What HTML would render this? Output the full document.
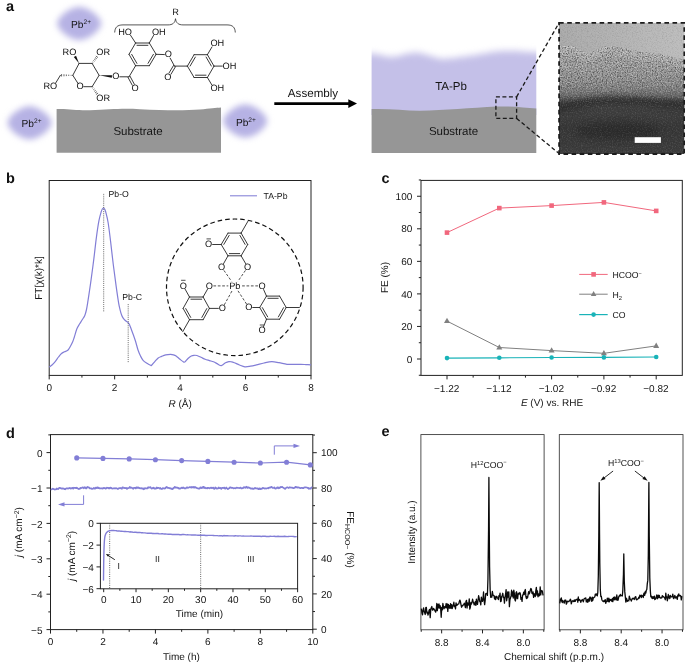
<!DOCTYPE html>
<html lang="en"><head><meta charset="utf-8"><title>Figure</title>
<style>
html,body{margin:0;padding:0;background:#fff;}
svg{display:block;text-rendering:geometricPrecision;font-family:"Liberation Sans",sans-serif;fill:#151515;}
.pl{font-weight:bold;font-size:14.5px;fill:#111;}
</style></head><body>
<svg width="685" height="662" viewBox="0 0 685 662">
<rect width="685" height="662" fill="#fff"/>
<defs>
<linearGradient id="temg" x1="0" y1="0" x2="0" y2="1">
<stop offset="0" stop-color="#a2a2a2"/><stop offset="0.22" stop-color="#a0a0a0"/><stop offset="0.35" stop-color="#979797"/><stop offset="0.47" stop-color="#878787"/><stop offset="0.55" stop-color="#6e6e6e"/><stop offset="0.6" stop-color="#4a4a4a"/><stop offset="0.66" stop-color="#404040"/><stop offset="0.8" stop-color="#373737"/><stop offset="1" stop-color="#3d3d3d"/>
</linearGradient>
<linearGradient id="temtop" x1="0" y1="0" x2="1" y2="0">
<stop offset="0" stop-color="#aaaaaa"/><stop offset="1" stop-color="#bdbdbd"/>
</linearGradient>
<filter id="nw" x="0" y="0" width="100%" height="100%" color-interpolation-filters="sRGB">
<feTurbulence type="fractalNoise" baseFrequency="0.8" numOctaves="2" seed="3"/>
<feColorMatrix type="matrix" values="0 0 0 0 1  0 0 0 0 1  0 0 0 0 1  3 0 0 0 -1.5"/>
</filter>
<filter id="nb" x="0" y="0" width="100%" height="100%" color-interpolation-filters="sRGB">
<feTurbulence type="fractalNoise" baseFrequency="0.8" numOctaves="2" seed="3"/>
<feColorMatrix type="matrix" values="0 0 0 0 0  0 0 0 0 0  0 0 0 0 0  -3 0 0 0 1.5"/>
</filter>
<linearGradient id="nmg" x1="0" y1="0" x2="0" y2="1">
<stop offset="0" stop-color="#fff" stop-opacity="0.5"/><stop offset="0.45" stop-color="#fff" stop-opacity="0.42"/><stop offset="0.58" stop-color="#fff" stop-opacity="0.2"/><stop offset="0.66" stop-color="#fff" stop-opacity="0.1"/><stop offset="1" stop-color="#fff" stop-opacity="0.1"/>
</linearGradient>
<mask id="nmask" maskUnits="userSpaceOnUse" x="559" y="22.7" width="125.5" height="131.3">
<rect x="559" y="22.7" width="125.5" height="131.3" fill="url(#nmg)"/>
<path d="M559,22.7 H684.5 V60 L680.2,58.8 L661.3,54 L644.2,52.2 L627.1,48.4 L608.1,45.5 L597,49.5 L587.3,54 L574,46.5 L559,45.5 Z" fill="#000" opacity="0.82"/>
</mask>
<filter id="blobblur" x="-30%" y="-30%" width="160%" height="160%" color-interpolation-filters="sRGB"><feGaussianBlur stdDeviation="3.3"/></filter>
<filter id="vblur" x="-5%" y="-20%" width="110%" height="140%" color-interpolation-filters="sRGB"><feGaussianBlur stdDeviation="1.2 3.5"/></filter>
<filter id="blur2" x="-20%" y="-100%" width="140%" height="300%"><feGaussianBlur stdDeviation="1.8"/></filter>
<filter id="blur3" x="-20%" y="-100%" width="140%" height="300%"><feGaussianBlur stdDeviation="3"/></filter>
<clipPath id="temclip"><rect x="559" y="22.7" width="125.5" height="131.3"/></clipPath>
<clipPath id="tapbclip"><rect x="371.6" y="30" width="164.7" height="85"/></clipPath>
</defs>
<polygon points="101.2,23.5 101.1,24.3 100.8,25.4 100.3,26.6 99.6,27.8 98.7,29.2 97.6,30.5 96.3,31.8 95.0,33.1 93.5,34.3 91.9,35.4 90.2,36.4 88.4,37.4 86.7,38.2 85.0,38.9 83.3,39.4 81.7,39.8 80.2,40.0 79.2,40.1 78.2,40.0 76.7,39.8 75.1,39.4 73.4,38.9 71.7,38.2 70.0,37.4 68.2,36.4 66.5,35.4 64.9,34.3 63.4,33.1 62.1,31.8 60.8,30.5 59.7,29.2 58.8,27.8 58.1,26.6 57.6,25.4 57.3,24.3 57.2,23.5 57.3,22.7 57.6,21.6 58.1,20.4 58.8,19.2 59.7,17.8 60.8,16.5 62.1,15.2 63.4,13.9 64.9,12.7 66.5,11.6 68.2,10.6 70.0,9.6 71.7,8.8 73.4,8.1 75.1,7.6 76.7,7.2 78.2,7.0 79.2,6.9 80.2,7.0 81.7,7.2 83.3,7.6 85.0,8.1 86.7,8.8 88.4,9.6 90.2,10.6 91.9,11.6 93.5,12.7 95.0,13.9 96.3,15.2 97.6,16.5 98.7,17.8 99.6,19.2 100.3,20.4 100.8,21.6 101.1,22.7" fill="#b6b2e4" filter="url(#blobblur)"/>
<text x="71.0" y="28.1" font-size="10.2">Pb<tspan dy="-4.2" font-size="6.6">2+</tspan></text>
<polygon points="51.6,122.8 51.5,123.6 51.2,124.7 50.7,125.9 50.0,127.1 49.1,128.5 48.0,129.8 46.7,131.1 45.4,132.4 43.9,133.6 42.3,134.7 40.6,135.7 38.8,136.7 37.1,137.5 35.4,138.2 33.7,138.7 32.1,139.1 30.6,139.3 29.6,139.4 28.6,139.3 27.1,139.1 25.5,138.7 23.8,138.2 22.1,137.5 20.4,136.7 18.6,135.7 16.9,134.7 15.3,133.6 13.8,132.4 12.5,131.1 11.2,129.8 10.1,128.5 9.2,127.1 8.5,125.9 8.0,124.7 7.7,123.6 7.6,122.8 7.7,122.0 8.0,120.9 8.5,119.7 9.2,118.5 10.1,117.1 11.2,115.8 12.5,114.5 13.8,113.2 15.3,112.0 16.9,110.9 18.6,109.9 20.4,108.9 22.1,108.1 23.8,107.4 25.5,106.9 27.1,106.5 28.6,106.3 29.6,106.2 30.6,106.3 32.1,106.5 33.7,106.9 35.4,107.4 37.1,108.1 38.8,108.9 40.6,109.9 42.3,110.9 43.9,112.0 45.4,113.2 46.7,114.5 48.0,115.8 49.1,117.1 50.0,118.5 50.7,119.7 51.2,120.9 51.5,122.0" fill="#b6b2e4" filter="url(#blobblur)"/>
<text x="21.5" y="127.0" font-size="10.2">Pb<tspan dy="-4.2" font-size="6.6">2+</tspan></text>
<polygon points="267.2,121.0 267.1,121.8 266.8,122.9 266.3,124.1 265.6,125.3 264.7,126.7 263.6,128.0 262.3,129.3 261.0,130.6 259.5,131.8 257.9,132.9 256.2,133.9 254.4,134.9 252.7,135.7 251.0,136.4 249.3,136.9 247.7,137.3 246.2,137.5 245.2,137.6 244.2,137.5 242.7,137.3 241.1,136.9 239.4,136.4 237.7,135.7 236.0,134.9 234.2,133.9 232.5,132.9 230.9,131.8 229.4,130.6 228.1,129.3 226.8,128.0 225.7,126.7 224.8,125.3 224.1,124.1 223.6,122.9 223.3,121.8 223.2,121.0 223.3,120.2 223.6,119.1 224.1,117.9 224.8,116.7 225.7,115.3 226.8,114.0 228.1,112.7 229.4,111.4 230.9,110.2 232.5,109.1 234.2,108.1 236.0,107.1 237.7,106.3 239.4,105.6 241.1,105.1 242.7,104.7 244.2,104.5 245.2,104.4 246.2,104.5 247.7,104.7 249.3,105.1 251.0,105.6 252.7,106.3 254.4,107.1 256.2,108.1 257.9,109.1 259.5,110.2 261.0,111.4 262.3,112.7 263.6,114.0 264.7,115.3 265.6,116.7 266.3,117.9 266.8,119.1 267.1,120.2" fill="#b6b2e4" filter="url(#blobblur)"/>
<text x="235.9" y="126.0" font-size="10.2">Pb<tspan dy="-4.2" font-size="6.6">2+</tspan></text>
<path d="M56.6,109 C70,108.6 76,110.6 90,110.2 C110,109.6 120,108.2 140,109.2 C165,110.4 185,110.6 200,109.4 C210,108.4 216,107.7 221,107.4 L221,152.7 L56.6,152.7 Z" fill="#969696"/>
<text x="138" y="135.3" font-size="11.5" text-anchor="middle">Substrate</text>
<text x="313" y="97.3" font-size="11.6" text-anchor="middle">Assembly</text>
<path d="M274.3,103.6 H350" stroke="#000" stroke-width="2.6" fill="none"/>
<path d="M348.3,99.3 L357,103.6 L348.3,107.9 Z" fill="#000"/>
<g clip-path="url(#tapbclip)"><path d="M360,53.8 L371.6,53.8 C379,54.2 384,56.7 391,56.7 C400,56.7 406,52.7 415,52.7 C426,52.7 434,58.7 444,58.7 C454,58.7 461,56.8 470,55.8 C482,54.4 490,51.8 500,51.3 C512,50.7 524,51.6 536.3,52.6 L550,52.6 L550,125 L360,125 Z" fill="#c4c0e8" filter="url(#vblur)"/></g>
<path d="M371.6,109.1 C390,108.5 405,110.8 420,110.7 C445,110.5 470,108 497,106.6 C512,106 525,107.8 536.3,108.6 L536.3,153 L371.6,153 Z" fill="#969696"/>
<text x="451" y="90.4" font-size="11.5" text-anchor="middle">TA-Pb</text>
<text x="453.5" y="134.8" font-size="11.5" text-anchor="middle">Substrate</text>
<rect x="495.9" y="96.9" width="20.7" height="21.5" fill="none" stroke="#1a1a1a" stroke-width="1.3" stroke-dasharray="4,2.5"/>
<path d="M516.6,96.9 L559.1,22.8 M516.6,118.4 L559.1,153.6" stroke="#1a1a1a" stroke-width="1.3" stroke-dasharray="4,2.5" fill="none"/>
<g clip-path="url(#temclip)">
<rect x="559" y="22.7" width="125.5" height="131.3" fill="url(#temg)"/>
<path d="M559,22.7 H684.5 V60 L680.2,58.8 L661.3,54 L644.2,52.2 L627.1,48.4 L608.1,45.5 L597,49.5 L587.3,54 L574,46.5 L559,45.5 Z" fill="url(#temtop)"/>
<path d="M555,50 L574,51 L587.3,58.5 L597,54 L608.1,50 L627.1,53 L644.2,57 L661.3,58.8 L680.2,63.5 L688,65" stroke="#b4b4b4" stroke-width="7" fill="none" opacity="0.55" filter="url(#blur2)"/>
<path d="M559,46.3 L574,47.3 L587.3,54.8 L597,50.3 L608.1,46.3 L627.1,49.2 L644.2,53 L661.3,54.8 L680.2,59.6 L684.5,60.8" stroke="#b9b9b9" stroke-width="1.5" fill="none" opacity="0.7"/>
<path d="M552,109 C575,106 590,100.5 612,100.5 C640,100.5 660,104 692,106" stroke="#2b2b2b" stroke-width="7" fill="none" filter="url(#blur3)" opacity="0.9"/>
<ellipse cx="618" cy="131" rx="42" ry="9" fill="#2c2c2c" filter="url(#blur3)" opacity="0.8"/>
<g mask="url(#nmask)"><rect x="559" y="22.7" width="125.5" height="131.3" filter="url(#nw)"/><rect x="559" y="22.7" width="125.5" height="131.3" filter="url(#nb)"/></g>
</g>
<rect x="634.7" y="137.2" width="26.2" height="5.7" fill="#fff"/>
<rect x="559.1" y="22.8" width="125.2" height="131.2" fill="none" stroke="#1c1c1c" stroke-width="1.8" stroke-dasharray="4.6,3.5"/>
<line x1="79.10" y1="63.40" x2="92.10" y2="63.40" stroke="#222" stroke-width="0.9" stroke-linecap="round"/>
<line x1="92.10" y1="63.40" x2="99.10" y2="75.30" stroke="#222" stroke-width="0.9" stroke-linecap="round"/>
<line x1="99.10" y1="75.30" x2="92.10" y2="86.70" stroke="#222" stroke-width="0.9" stroke-linecap="round"/>
<line x1="92.10" y1="86.70" x2="83.70" y2="86.70" stroke="#222" stroke-width="0.9" stroke-linecap="round"/>
<line x1="78.16" y1="83.67" x2="72.80" y2="75.30" stroke="#222" stroke-width="0.9" stroke-linecap="round"/>
<line x1="72.80" y1="75.30" x2="79.10" y2="63.40" stroke="#222" stroke-width="0.9" stroke-linecap="round"/>
<line x1="71.11" y1="74.88" x2="71.11" y2="75.72" stroke="#222" stroke-width="0.7"/>
<line x1="68.73" y1="74.68" x2="68.73" y2="75.92" stroke="#222" stroke-width="0.7"/>
<line x1="66.35" y1="74.49" x2="66.35" y2="76.11" stroke="#222" stroke-width="0.7"/>
<line x1="63.97" y1="74.29" x2="63.97" y2="76.31" stroke="#222" stroke-width="0.7"/>
<line x1="61.59" y1="74.10" x2="61.59" y2="76.50" stroke="#222" stroke-width="0.7"/>
<line x1="60.40" y1="75.30" x2="55.79" y2="82.82" stroke="#222" stroke-width="0.9" stroke-linecap="round"/>
<text x="57.18" y="89.09" font-size="9.2" text-anchor="end" fill="#111">RO</text>
<text x="80.10" y="89.39" font-size="9.2" text-anchor="middle" fill="#111">O</text>
<path d="M79.10,63.40 L76.05,55.66 L73.81,56.98 Z" fill="#111"/>
<text x="76.38" y="55.39" font-size="9.2" text-anchor="end" fill="#111">RO</text>
<line x1="93.27" y1="62.57" x2="92.53" y2="62.04" stroke="#222" stroke-width="0.7"/>
<line x1="94.44" y1="61.32" x2="93.37" y2="60.53" stroke="#222" stroke-width="0.7"/>
<line x1="95.62" y1="60.06" x2="94.20" y2="59.03" stroke="#222" stroke-width="0.7"/>
<line x1="96.79" y1="58.80" x2="95.04" y2="57.53" stroke="#222" stroke-width="0.7"/>
<line x1="97.97" y1="57.55" x2="95.88" y2="56.02" stroke="#222" stroke-width="0.7"/>
<text x="96.32" y="55.39" font-size="9.2" text-anchor="start" fill="#111">OR</text>
<path d="M99.10,75.30 L111.80,77.74 L112.03,75.15 Z" fill="#111"/>
<text x="115.90" y="79.49" font-size="9.2" text-anchor="middle" fill="#111">O</text>
<line x1="92.52" y1="88.11" x2="93.27" y2="87.60" stroke="#222" stroke-width="0.7"/>
<line x1="93.38" y1="89.72" x2="94.47" y2="88.96" stroke="#222" stroke-width="0.7"/>
<line x1="94.23" y1="91.32" x2="95.67" y2="90.33" stroke="#222" stroke-width="0.7"/>
<line x1="95.08" y1="92.93" x2="96.87" y2="91.70" stroke="#222" stroke-width="0.7"/>
<line x1="95.94" y1="94.54" x2="98.07" y2="93.06" stroke="#222" stroke-width="0.7"/>
<text x="96.32" y="100.69" font-size="9.2" text-anchor="start" fill="#111">OR</text>
<line x1="119.80" y1="76.80" x2="129.00" y2="76.80" stroke="#222" stroke-width="0.9" stroke-linecap="round"/>
<line x1="127.99" y1="77.35" x2="132.28" y2="85.24" stroke="#222" stroke-width="0.9" stroke-linecap="round"/>
<line x1="130.01" y1="76.25" x2="134.30" y2="84.14" stroke="#222" stroke-width="0.9" stroke-linecap="round"/>
<text x="135.20" y="90.89" font-size="9.2" text-anchor="middle" fill="#111">O</text>
<line x1="129.00" y1="76.80" x2="135.60" y2="65.70" stroke="#222" stroke-width="0.9" stroke-linecap="round"/>
<line x1="135.60" y1="43.00" x2="149.30" y2="43.00" stroke="#222" stroke-width="0.9" stroke-linecap="round"/>
<line x1="137.00" y1="45.30" x2="147.90" y2="45.30" stroke="#222" stroke-width="0.9" stroke-linecap="round"/>
<line x1="149.30" y1="43.00" x2="156.10" y2="54.30" stroke="#222" stroke-width="0.9" stroke-linecap="round"/>
<line x1="156.10" y1="54.30" x2="149.30" y2="65.70" stroke="#222" stroke-width="0.9" stroke-linecap="round"/>
<line x1="153.41" y1="54.32" x2="148.04" y2="63.32" stroke="#222" stroke-width="0.9" stroke-linecap="round"/>
<line x1="149.30" y1="65.70" x2="135.60" y2="65.70" stroke="#222" stroke-width="0.9" stroke-linecap="round"/>
<line x1="135.60" y1="65.70" x2="129.00" y2="54.30" stroke="#222" stroke-width="0.9" stroke-linecap="round"/>
<line x1="136.89" y1="63.34" x2="131.69" y2="54.36" stroke="#222" stroke-width="0.9" stroke-linecap="round"/>
<line x1="129.00" y1="54.30" x2="135.60" y2="43.00" stroke="#222" stroke-width="0.9" stroke-linecap="round"/>
<line x1="135.60" y1="43.00" x2="130.59" y2="35.35" stroke="#222" stroke-width="0.9" stroke-linecap="round"/>
<text x="131.98" y="34.69" font-size="9.2" text-anchor="end" fill="#111">HO</text>
<line x1="149.30" y1="43.00" x2="153.54" y2="35.48" stroke="#222" stroke-width="0.9" stroke-linecap="round"/>
<text x="151.92" y="34.69" font-size="9.2" text-anchor="start" fill="#111">OH</text>
<line x1="156.10" y1="54.30" x2="164.40" y2="54.57" stroke="#222" stroke-width="0.9" stroke-linecap="round"/>
<text x="168.30" y="57.39" font-size="9.2" text-anchor="middle" fill="#111">O</text>
<line x1="170.16" y1="58.13" x2="174.50" y2="66.10" stroke="#222" stroke-width="0.9" stroke-linecap="round"/>
<line x1="173.51" y1="65.51" x2="168.97" y2="73.08" stroke="#222" stroke-width="0.9" stroke-linecap="round"/>
<line x1="175.49" y1="66.69" x2="170.94" y2="74.26" stroke="#222" stroke-width="0.9" stroke-linecap="round"/>
<text x="167.90" y="79.79" font-size="9.2" text-anchor="middle" fill="#111">O</text>
<line x1="174.50" y1="66.10" x2="187.40" y2="66.10" stroke="#222" stroke-width="0.9" stroke-linecap="round"/>
<line x1="187.40" y1="66.10" x2="194.10" y2="54.70" stroke="#222" stroke-width="0.9" stroke-linecap="round"/>
<line x1="190.09" y1="66.06" x2="195.37" y2="57.07" stroke="#222" stroke-width="0.9" stroke-linecap="round"/>
<line x1="194.10" y1="54.70" x2="207.40" y2="54.70" stroke="#222" stroke-width="0.9" stroke-linecap="round"/>
<line x1="207.40" y1="54.70" x2="214.00" y2="66.10" stroke="#222" stroke-width="0.9" stroke-linecap="round"/>
<line x1="206.11" y1="57.06" x2="211.31" y2="66.04" stroke="#222" stroke-width="0.9" stroke-linecap="round"/>
<line x1="214.00" y1="66.10" x2="207.40" y2="77.50" stroke="#222" stroke-width="0.9" stroke-linecap="round"/>
<line x1="207.40" y1="77.50" x2="194.10" y2="77.50" stroke="#222" stroke-width="0.9" stroke-linecap="round"/>
<line x1="206.00" y1="75.20" x2="195.50" y2="75.20" stroke="#222" stroke-width="0.9" stroke-linecap="round"/>
<line x1="194.10" y1="77.50" x2="187.40" y2="66.10" stroke="#222" stroke-width="0.9" stroke-linecap="round"/>
<line x1="207.40" y1="54.70" x2="211.97" y2="46.95" stroke="#222" stroke-width="0.9" stroke-linecap="round"/>
<text x="210.42" y="46.19" font-size="9.2" text-anchor="start" fill="#111">OH</text>
<line x1="214.00" y1="66.10" x2="222.30" y2="66.10" stroke="#222" stroke-width="0.9" stroke-linecap="round"/>
<text x="222.62" y="68.79" font-size="9.2" text-anchor="start" fill="#111">OH</text>
<line x1="207.40" y1="77.50" x2="211.94" y2="85.07" stroke="#222" stroke-width="0.9" stroke-linecap="round"/>
<text x="210.42" y="91.19" font-size="9.2" text-anchor="start" fill="#111">OH</text>
<path d="M114.7,32.5 C115,27.5 117,24.9 123,24.9 H168 C172.5,24.9 175,23 175.5,18.7 C176,23 178.5,24.9 183,24.9 H227 C233,24.9 235,27.5 235.3,32.5" fill="none" stroke="#2b2b2b" stroke-width="0.8"/>
<text x="175.5" y="14.9" font-size="9.2" text-anchor="middle" fill="#222">R</text>
<rect x="49.2" y="180.5" width="261.8" height="194.89999999999998" fill="none" stroke="#222" stroke-width="1"/>
<line x1="49.20" y1="375.4" x2="49.20" y2="379.4" stroke="#222" stroke-width="1"/>
<text x="49.20" y="391.40" font-size="10.0" text-anchor="middle" >0</text>
<line x1="81.93" y1="375.4" x2="81.93" y2="377.59999999999997" stroke="#222" stroke-width="1"/>
<line x1="114.65" y1="375.4" x2="114.65" y2="379.4" stroke="#222" stroke-width="1"/>
<text x="114.65" y="391.40" font-size="10.0" text-anchor="middle" >2</text>
<line x1="147.38" y1="375.4" x2="147.38" y2="377.59999999999997" stroke="#222" stroke-width="1"/>
<line x1="180.10" y1="375.4" x2="180.10" y2="379.4" stroke="#222" stroke-width="1"/>
<text x="180.10" y="391.40" font-size="10.0" text-anchor="middle" >4</text>
<line x1="212.82" y1="375.4" x2="212.82" y2="377.59999999999997" stroke="#222" stroke-width="1"/>
<line x1="245.55" y1="375.4" x2="245.55" y2="379.4" stroke="#222" stroke-width="1"/>
<text x="245.55" y="391.40" font-size="10.0" text-anchor="middle" >6</text>
<line x1="278.28" y1="375.4" x2="278.28" y2="377.59999999999997" stroke="#222" stroke-width="1"/>
<line x1="311.00" y1="375.4" x2="311.00" y2="379.4" stroke="#222" stroke-width="1"/>
<text x="311.00" y="391.40" font-size="10.0" text-anchor="middle" >8</text>
<text x="180.2" y="407.2" font-size="10.0" text-anchor="middle"><tspan font-style="italic">R</tspan> (Å)</text>
<text transform="translate(41.80,278.00) rotate(-90)" font-size="10.0" text-anchor="middle">FT[χ(k)*k]</text>
<path d="M49.20,367.10 C49.67,366.75 51.00,365.92 52.00,365.00 C53.00,364.08 54.12,362.93 55.20,361.60 C56.28,360.27 57.45,358.35 58.50,357.00 C59.55,355.65 60.50,354.37 61.50,353.50 C62.50,352.63 63.45,352.33 64.50,351.80 C65.55,351.27 66.83,351.18 67.80,350.30 C68.77,349.42 69.47,347.97 70.30,346.50 C71.13,345.03 72.15,343.00 72.80,341.50 C73.45,340.00 73.53,339.58 74.20,337.50 C74.87,335.42 75.92,331.25 76.80,329.00 C77.68,326.75 78.60,325.53 79.50,324.00 C80.40,322.47 81.32,321.22 82.20,319.80 C83.08,318.38 84.08,317.22 84.80,315.50 C85.52,313.78 85.97,311.97 86.50,309.50 C87.03,307.03 87.48,303.95 88.00,300.70 C88.52,297.45 89.08,293.52 89.60,290.00 C90.12,286.48 90.38,284.87 91.10,279.60 C91.82,274.33 93.02,265.45 93.90,258.40 C94.78,251.35 95.55,243.63 96.40,237.30 C97.25,230.97 98.18,224.70 99.00,220.40 C99.82,216.10 100.73,213.40 101.30,211.50 C101.87,209.60 102.03,209.58 102.40,209.00 C102.77,208.42 103.13,208.00 103.50,208.00 C103.87,208.00 104.25,208.42 104.60,209.00 C104.95,209.58 105.02,209.25 105.60,211.50 C106.18,213.75 107.27,217.50 108.10,222.50 C108.93,227.50 109.73,234.45 110.60,241.50 C111.47,248.55 112.38,257.40 113.30,264.80 C114.22,272.20 115.22,279.57 116.10,285.90 C116.98,292.23 117.92,298.73 118.60,302.80 C119.28,306.87 119.67,308.18 120.20,310.30 C120.73,312.42 121.27,314.15 121.80,315.50 C122.33,316.85 122.87,317.62 123.40,318.40 C123.93,319.18 124.20,319.50 125.00,320.20 C125.80,320.90 127.40,321.73 128.20,322.60 C129.00,323.47 129.28,324.28 129.80,325.40 C130.32,326.52 130.70,327.70 131.30,329.30 C131.90,330.90 132.68,332.97 133.40,335.00 C134.12,337.03 134.82,338.95 135.60,341.50 C136.38,344.05 137.28,347.88 138.10,350.30 C138.92,352.72 139.67,354.33 140.50,356.00 C141.33,357.67 142.02,359.08 143.10,360.30 C144.18,361.52 145.75,362.47 147.00,363.30 C148.25,364.13 149.83,364.98 150.60,365.30 C151.37,365.62 150.87,365.87 151.60,365.20 C152.33,364.53 153.90,362.50 155.00,361.30 C156.10,360.10 157.12,358.82 158.20,358.00 C159.28,357.18 160.25,356.92 161.50,356.40 C162.75,355.88 164.20,355.23 165.70,354.90 C167.20,354.57 169.20,354.42 170.50,354.40 C171.80,354.38 172.57,354.53 173.50,354.80 C174.43,355.07 175.02,355.25 176.10,356.00 C177.18,356.75 178.72,358.28 180.00,359.30 C181.28,360.32 182.92,361.72 183.80,362.10 C184.68,362.48 184.60,362.20 185.30,361.60 C186.00,361.00 187.00,359.43 188.00,358.50 C189.00,357.57 190.30,356.53 191.30,356.00 C192.30,355.47 193.07,355.38 194.00,355.30 C194.93,355.22 195.73,355.17 196.90,355.50 C198.07,355.83 199.62,356.67 201.00,357.30 C202.38,357.93 203.78,358.75 205.20,359.30 C206.62,359.85 208.12,360.18 209.50,360.60 C210.88,361.02 212.25,361.30 213.50,361.80 C214.75,362.30 215.85,362.98 217.00,363.60 C218.15,364.22 219.57,365.23 220.40,365.50 C221.23,365.77 221.15,365.65 222.00,365.20 C222.85,364.75 224.37,363.40 225.50,362.80 C226.63,362.20 227.80,361.77 228.80,361.60 C229.80,361.43 230.58,361.62 231.50,361.80 C232.42,361.98 232.97,362.17 234.30,362.70 C235.63,363.23 237.73,364.32 239.50,365.00 C241.27,365.68 243.07,366.60 244.90,366.80 C246.73,367.00 248.57,366.52 250.50,366.20 C252.43,365.88 254.25,365.43 256.50,364.90 C258.75,364.37 261.45,363.53 264.00,363.00 C266.55,362.47 269.30,361.75 271.80,361.70 C274.30,361.65 276.47,362.27 279.00,362.70 C281.53,363.13 284.50,364.02 287.00,364.30 C289.50,364.58 291.68,364.40 294.00,364.40 C296.32,364.40 298.90,364.27 300.90,364.30 C302.90,364.33 304.32,364.50 306.00,364.60 C307.68,364.70 310.17,364.85 311.00,364.90" fill="none" stroke="#827ed6" stroke-width="1.2"/>
<line x1="103.7" y1="193.9" x2="103.7" y2="312" stroke="#444" stroke-width="0.9" stroke-dasharray="0.8,1.1"/>
<line x1="128.2" y1="304" x2="128.2" y2="363" stroke="#444" stroke-width="0.9" stroke-dasharray="0.8,1.1"/>
<text x="108.50" y="197.10" font-size="8.7" text-anchor="start" >Pb-O</text>
<text x="122.30" y="299.80" font-size="8.7" text-anchor="start" >Pb-C</text>
<line x1="230" y1="195.8" x2="257" y2="195.8" stroke="#827ed6" stroke-width="1.05"/>
<text x="263.50" y="198.80" font-size="8.7" text-anchor="start" >TA-Pb</text>
<line x1="228.00" y1="233.10" x2="241.10" y2="233.10" stroke="#222" stroke-width="0.9" stroke-linecap="round"/>
<line x1="241.10" y1="233.10" x2="247.70" y2="244.50" stroke="#222" stroke-width="0.9" stroke-linecap="round"/>
<line x1="239.90" y1="235.41" x2="245.09" y2="244.39" stroke="#222" stroke-width="0.9" stroke-linecap="round"/>
<line x1="247.70" y1="244.50" x2="241.10" y2="255.80" stroke="#222" stroke-width="0.9" stroke-linecap="round"/>
<line x1="241.10" y1="255.80" x2="228.00" y2="255.80" stroke="#222" stroke-width="0.9" stroke-linecap="round"/>
<line x1="239.70" y1="253.60" x2="229.40" y2="253.60" stroke="#222" stroke-width="0.9" stroke-linecap="round"/>
<line x1="228.00" y1="255.80" x2="221.20" y2="244.50" stroke="#222" stroke-width="0.9" stroke-linecap="round"/>
<line x1="221.20" y1="244.50" x2="228.00" y2="233.10" stroke="#222" stroke-width="0.9" stroke-linecap="round"/>
<line x1="223.81" y1="244.42" x2="229.17" y2="235.43" stroke="#222" stroke-width="0.9" stroke-linecap="round"/>
<line x1="241.10" y1="233.10" x2="247.90" y2="221.30" stroke="#222" stroke-width="0.9" stroke-linecap="round"/>
<line x1="221.20" y1="244.50" x2="212.60" y2="244.50" stroke="#222" stroke-width="0.9" stroke-linecap="round"/>
<text x="208.70" y="247.19" font-size="9.2" text-anchor="middle" fill="#111">O</text>
<line x1="206.5" y1="238.9" x2="210.89999999999998" y2="238.9" stroke="#222" stroke-width="0.8"/>
<line x1="228.00" y1="255.80" x2="223.57" y2="263.62" stroke="#222" stroke-width="0.9" stroke-linecap="round"/>
<text x="221.60" y="269.79" font-size="9.2" text-anchor="middle" fill="#111">O</text>
<line x1="241.10" y1="255.80" x2="245.68" y2="263.65" stroke="#222" stroke-width="0.9" stroke-linecap="round"/>
<text x="247.70" y="269.79" font-size="9.2" text-anchor="middle" fill="#111">O</text>
<line x1="223.90" y1="270.37" x2="231.64" y2="281.40" stroke="#222" stroke-width="0.8" stroke-dasharray="2.7,1.7" stroke-linecap="butt"/>
<line x1="245.44" y1="270.40" x2="237.91" y2="281.36" stroke="#222" stroke-width="0.8" stroke-dasharray="2.7,1.7" stroke-linecap="butt"/>
<line x1="189.50" y1="297.00" x2="203.10" y2="297.00" stroke="#222" stroke-width="0.9" stroke-linecap="round"/>
<line x1="190.90" y1="299.20" x2="201.70" y2="299.20" stroke="#222" stroke-width="0.9" stroke-linecap="round"/>
<line x1="203.10" y1="297.00" x2="209.40" y2="308.40" stroke="#222" stroke-width="0.9" stroke-linecap="round"/>
<line x1="209.40" y1="308.40" x2="203.10" y2="319.70" stroke="#222" stroke-width="0.9" stroke-linecap="round"/>
<line x1="206.80" y1="308.55" x2="201.86" y2="317.41" stroke="#222" stroke-width="0.9" stroke-linecap="round"/>
<line x1="203.10" y1="319.70" x2="189.50" y2="319.70" stroke="#222" stroke-width="0.9" stroke-linecap="round"/>
<line x1="189.50" y1="319.70" x2="183.10" y2="308.40" stroke="#222" stroke-width="0.9" stroke-linecap="round"/>
<line x1="190.72" y1="317.40" x2="185.70" y2="308.53" stroke="#222" stroke-width="0.9" stroke-linecap="round"/>
<line x1="183.10" y1="308.40" x2="189.50" y2="297.00" stroke="#222" stroke-width="0.9" stroke-linecap="round"/>
<line x1="189.50" y1="319.70" x2="182.70" y2="331.70" stroke="#222" stroke-width="0.9" stroke-linecap="round"/>
<line x1="189.50" y1="297.00" x2="185.25" y2="289.39" stroke="#222" stroke-width="0.9" stroke-linecap="round"/>
<text x="183.30" y="288.59" font-size="9.2" text-anchor="middle" fill="#111">O</text>
<line x1="181.10000000000002" y1="280.29999999999995" x2="185.5" y2="280.29999999999995" stroke="#222" stroke-width="0.8"/>
<line x1="203.10" y1="297.00" x2="207.43" y2="289.38" stroke="#222" stroke-width="0.9" stroke-linecap="round"/>
<text x="209.40" y="288.59" font-size="9.2" text-anchor="middle" fill="#111">O</text>
<line x1="209.40" y1="308.40" x2="218.40" y2="308.40" stroke="#222" stroke-width="0.9" stroke-linecap="round"/>
<text x="222.30" y="311.09" font-size="9.2" text-anchor="middle" fill="#111">O</text>
<line x1="213.40" y1="285.90" x2="228.30" y2="285.90" stroke="#222" stroke-width="0.8" stroke-dasharray="2.7,1.7" stroke-linecap="butt"/>
<line x1="224.24" y1="304.90" x2="232.13" y2="290.71" stroke="#222" stroke-width="0.8" stroke-dasharray="2.7,1.7" stroke-linecap="butt"/>
<line x1="266.50" y1="296.10" x2="279.60" y2="296.10" stroke="#222" stroke-width="0.9" stroke-linecap="round"/>
<line x1="267.90" y1="298.30" x2="278.20" y2="298.30" stroke="#222" stroke-width="0.9" stroke-linecap="round"/>
<line x1="279.60" y1="296.10" x2="286.20" y2="307.50" stroke="#222" stroke-width="0.9" stroke-linecap="round"/>
<line x1="286.20" y1="307.50" x2="279.60" y2="319.20" stroke="#222" stroke-width="0.9" stroke-linecap="round"/>
<line x1="283.60" y1="307.64" x2="278.37" y2="316.90" stroke="#222" stroke-width="0.9" stroke-linecap="round"/>
<line x1="279.60" y1="319.20" x2="266.50" y2="319.20" stroke="#222" stroke-width="0.9" stroke-linecap="round"/>
<line x1="266.50" y1="319.20" x2="259.70" y2="307.50" stroke="#222" stroke-width="0.9" stroke-linecap="round"/>
<line x1="267.70" y1="316.88" x2="262.31" y2="307.60" stroke="#222" stroke-width="0.9" stroke-linecap="round"/>
<line x1="259.70" y1="307.50" x2="266.50" y2="296.10" stroke="#222" stroke-width="0.9" stroke-linecap="round"/>
<line x1="286.20" y1="307.50" x2="299.40" y2="307.50" stroke="#222" stroke-width="0.9" stroke-linecap="round"/>
<line x1="266.50" y1="296.10" x2="263.61" y2="289.56" stroke="#222" stroke-width="0.9" stroke-linecap="round"/>
<text x="262.00" y="288.59" font-size="9.2" text-anchor="middle" fill="#111">O</text>
<line x1="259.70" y1="307.50" x2="252.70" y2="307.50" stroke="#222" stroke-width="0.9" stroke-linecap="round"/>
<text x="248.80" y="310.19" font-size="9.2" text-anchor="middle" fill="#111">O</text>
<line x1="266.50" y1="319.20" x2="263.47" y2="326.88" stroke="#222" stroke-width="0.9" stroke-linecap="round"/>
<text x="262.00" y="333.29" font-size="9.2" text-anchor="middle" fill="#111">O</text>
<line x1="259.8" y1="325.0" x2="264.2" y2="325.0" stroke="#222" stroke-width="0.8"/>
<line x1="258.00" y1="285.90" x2="241.30" y2="285.90" stroke="#222" stroke-width="0.8" stroke-dasharray="2.7,1.7" stroke-linecap="butt"/>
<line x1="246.62" y1="304.14" x2="237.79" y2="290.52" stroke="#222" stroke-width="0.8" stroke-dasharray="2.7,1.7" stroke-linecap="butt"/>
<text x="234.8" y="289.0" font-size="9.2" text-anchor="middle" fill="#111">Pb</text>
<circle cx="234.8" cy="287.3" r="68.3" fill="none" stroke="#111" stroke-width="1.2" stroke-dasharray="4.6,3"/>
<rect x="421.0" y="180.4" width="261.29999999999995" height="194.99999999999997" fill="none" stroke="#222" stroke-width="1"/>
<line x1="421.0" y1="375.27" x2="418.8" y2="375.27" stroke="#222" stroke-width="1"/>
<line x1="421.0" y1="359.00" x2="417.0" y2="359.00" stroke="#222" stroke-width="1"/>
<text x="412.30" y="362.60" font-size="10.0" text-anchor="end" >0</text>
<line x1="421.0" y1="342.73" x2="418.8" y2="342.73" stroke="#222" stroke-width="1"/>
<line x1="421.0" y1="326.45" x2="417.0" y2="326.45" stroke="#222" stroke-width="1"/>
<text x="412.30" y="330.05" font-size="10.0" text-anchor="end" >20</text>
<line x1="421.0" y1="310.18" x2="418.8" y2="310.18" stroke="#222" stroke-width="1"/>
<line x1="421.0" y1="293.90" x2="417.0" y2="293.90" stroke="#222" stroke-width="1"/>
<text x="412.30" y="297.50" font-size="10.0" text-anchor="end" >40</text>
<line x1="421.0" y1="277.62" x2="418.8" y2="277.62" stroke="#222" stroke-width="1"/>
<line x1="421.0" y1="261.35" x2="417.0" y2="261.35" stroke="#222" stroke-width="1"/>
<text x="412.30" y="264.95" font-size="10.0" text-anchor="end" >60</text>
<line x1="421.0" y1="245.07" x2="418.8" y2="245.07" stroke="#222" stroke-width="1"/>
<line x1="421.0" y1="228.80" x2="417.0" y2="228.80" stroke="#222" stroke-width="1"/>
<text x="412.30" y="232.40" font-size="10.0" text-anchor="end" >80</text>
<line x1="421.0" y1="212.53" x2="418.8" y2="212.53" stroke="#222" stroke-width="1"/>
<line x1="421.0" y1="196.25" x2="417.0" y2="196.25" stroke="#222" stroke-width="1"/>
<text x="412.30" y="199.85" font-size="10.0" text-anchor="end" >100</text>
<line x1="421.0" y1="179.97" x2="418.8" y2="179.97" stroke="#222" stroke-width="1"/>
<line x1="447.00" y1="375.4" x2="447.00" y2="379.4" stroke="#222" stroke-width="1"/>
<text x="446.70" y="391.60" font-size="10.0" text-anchor="middle" >−1.22</text>
<line x1="473.15" y1="375.4" x2="473.15" y2="377.59999999999997" stroke="#222" stroke-width="1"/>
<line x1="499.30" y1="375.4" x2="499.30" y2="379.4" stroke="#222" stroke-width="1"/>
<text x="499.00" y="391.60" font-size="10.0" text-anchor="middle" >−1.12</text>
<line x1="525.45" y1="375.4" x2="525.45" y2="377.59999999999997" stroke="#222" stroke-width="1"/>
<line x1="551.60" y1="375.4" x2="551.60" y2="379.4" stroke="#222" stroke-width="1"/>
<text x="551.30" y="391.60" font-size="10.0" text-anchor="middle" >−1.02</text>
<line x1="577.75" y1="375.4" x2="577.75" y2="377.59999999999997" stroke="#222" stroke-width="1"/>
<line x1="603.90" y1="375.4" x2="603.90" y2="379.4" stroke="#222" stroke-width="1"/>
<text x="603.60" y="391.60" font-size="10.0" text-anchor="middle" >−0.92</text>
<line x1="630.05" y1="375.4" x2="630.05" y2="377.59999999999997" stroke="#222" stroke-width="1"/>
<line x1="656.20" y1="375.4" x2="656.20" y2="379.4" stroke="#222" stroke-width="1"/>
<text x="655.90" y="391.60" font-size="10.0" text-anchor="middle" >−0.82</text>
<text x="552" y="405.6" font-size="10.0" text-anchor="middle"><tspan font-style="italic">E</tspan> (V) vs. RHE</text>
<text transform="translate(387.60,277.50) rotate(-90)" font-size="10.0" text-anchor="middle">FE (%)</text>
<polyline points="447.00,321.10 499.30,347.50 551.60,350.60 603.90,353.30 656.20,345.90" fill="none" stroke="#808080" stroke-width="1.0"/>
<path d="M447.00,317.80 L450.00,323.10 L444.00,323.10 Z" fill="#808080"/>
<path d="M499.30,344.20 L502.30,349.50 L496.30,349.50 Z" fill="#808080"/>
<path d="M551.60,347.30 L554.60,352.60 L548.60,352.60 Z" fill="#808080"/>
<path d="M603.90,350.00 L606.90,355.30 L600.90,355.30 Z" fill="#808080"/>
<path d="M656.20,342.60 L659.20,347.90 L653.20,347.90 Z" fill="#808080"/>
<polyline points="447.00,358.10 499.30,357.80 551.60,357.50 603.90,357.40 656.20,357.00" fill="none" stroke="#19b3b8" stroke-width="1.2"/>
<circle cx="447.00" cy="358.10" r="2.3" fill="#19b3b8"/>
<circle cx="499.30" cy="357.80" r="2.3" fill="#19b3b8"/>
<circle cx="551.60" cy="357.50" r="2.3" fill="#19b3b8"/>
<circle cx="603.90" cy="357.40" r="2.3" fill="#19b3b8"/>
<circle cx="656.20" cy="357.00" r="2.3" fill="#19b3b8"/>
<polyline points="447.00,232.60 499.30,208.10 551.60,205.60 603.90,202.40 656.20,210.90" fill="none" stroke="#f1677d" stroke-width="1.0"/>
<rect x="444.70" y="230.30" width="4.6" height="4.6" fill="#f1677d"/>
<rect x="497.00" y="205.80" width="4.6" height="4.6" fill="#f1677d"/>
<rect x="549.30" y="203.30" width="4.6" height="4.6" fill="#f1677d"/>
<rect x="601.60" y="200.10" width="4.6" height="4.6" fill="#f1677d"/>
<rect x="653.90" y="208.60" width="4.6" height="4.6" fill="#f1677d"/>
<line x1="579.2" y1="274.4" x2="607.7" y2="274.4" stroke="#f1677d" stroke-width="1"/>
<rect x="591.3000000000001" y="272.09999999999997" width="4.6" height="4.6" fill="#f1677d"/>
<text x="612.4" y="277.8" font-size="8.7">HCOO<tspan dy="-3.2" font-size="5.5">−</tspan></text>
<line x1="579.2" y1="294.2" x2="607.7" y2="294.2" stroke="#808080" stroke-width="1"/>
<path d="M593.6,291.09999999999997 L596.4,296.09999999999997 L590.8000000000001,296.09999999999997 Z" fill="#808080"/>
<text x="612.4" y="297.6" font-size="8.7">H<tspan dy="2" font-size="5.8">2</tspan></text>
<line x1="579.2" y1="314.6" x2="607.7" y2="314.6" stroke="#19b3b8" stroke-width="1.2"/>
<circle cx="593.6" cy="314.6" r="2.3" fill="#19b3b8"/>
<text x="612.4" y="317.7" font-size="8.7">CO</text>
<rect x="50.5" y="434.6" width="262.3" height="195.0" fill="none" stroke="#222" stroke-width="1"/>
<line x1="50.5" y1="434.90" x2="48.3" y2="434.90" stroke="#222" stroke-width="1"/>
<line x1="50.5" y1="452.60" x2="46.5" y2="452.60" stroke="#222" stroke-width="1"/>
<text x="42.50" y="456.70" font-size="10.0" text-anchor="end" >0</text>
<line x1="50.5" y1="470.30" x2="48.3" y2="470.30" stroke="#222" stroke-width="1"/>
<line x1="50.5" y1="488.00" x2="46.5" y2="488.00" stroke="#222" stroke-width="1"/>
<text x="42.50" y="492.10" font-size="10.0" text-anchor="end" >−1</text>
<line x1="50.5" y1="505.70" x2="48.3" y2="505.70" stroke="#222" stroke-width="1"/>
<line x1="50.5" y1="523.40" x2="46.5" y2="523.40" stroke="#222" stroke-width="1"/>
<text x="42.50" y="527.50" font-size="10.0" text-anchor="end" >−2</text>
<line x1="50.5" y1="541.10" x2="48.3" y2="541.10" stroke="#222" stroke-width="1"/>
<line x1="50.5" y1="558.80" x2="46.5" y2="558.80" stroke="#222" stroke-width="1"/>
<text x="42.50" y="562.90" font-size="10.0" text-anchor="end" >−3</text>
<line x1="50.5" y1="576.50" x2="48.3" y2="576.50" stroke="#222" stroke-width="1"/>
<line x1="50.5" y1="594.20" x2="46.5" y2="594.20" stroke="#222" stroke-width="1"/>
<text x="42.50" y="598.30" font-size="10.0" text-anchor="end" >−4</text>
<line x1="50.5" y1="611.90" x2="48.3" y2="611.90" stroke="#222" stroke-width="1"/>
<line x1="50.5" y1="629.60" x2="46.5" y2="629.60" stroke="#222" stroke-width="1"/>
<text x="42.50" y="633.70" font-size="10.0" text-anchor="end" >−5</text>
<line x1="50.50" y1="629.6" x2="50.50" y2="633.6" stroke="#222" stroke-width="1"/>
<text x="50.50" y="645.40" font-size="10.0" text-anchor="middle" >0</text>
<line x1="76.73" y1="629.6" x2="76.73" y2="631.8000000000001" stroke="#222" stroke-width="1"/>
<line x1="102.96" y1="629.6" x2="102.96" y2="633.6" stroke="#222" stroke-width="1"/>
<text x="102.96" y="645.40" font-size="10.0" text-anchor="middle" >2</text>
<line x1="129.19" y1="629.6" x2="129.19" y2="631.8000000000001" stroke="#222" stroke-width="1"/>
<line x1="155.42" y1="629.6" x2="155.42" y2="633.6" stroke="#222" stroke-width="1"/>
<text x="155.42" y="645.40" font-size="10.0" text-anchor="middle" >4</text>
<line x1="181.65" y1="629.6" x2="181.65" y2="631.8000000000001" stroke="#222" stroke-width="1"/>
<line x1="207.88" y1="629.6" x2="207.88" y2="633.6" stroke="#222" stroke-width="1"/>
<text x="207.88" y="645.40" font-size="10.0" text-anchor="middle" >6</text>
<line x1="234.11" y1="629.6" x2="234.11" y2="631.8000000000001" stroke="#222" stroke-width="1"/>
<line x1="260.34" y1="629.6" x2="260.34" y2="633.6" stroke="#222" stroke-width="1"/>
<text x="260.34" y="645.40" font-size="10.0" text-anchor="middle" >8</text>
<line x1="286.57" y1="629.6" x2="286.57" y2="631.8000000000001" stroke="#222" stroke-width="1"/>
<line x1="312.80" y1="629.6" x2="312.80" y2="633.6" stroke="#222" stroke-width="1"/>
<text x="312.80" y="645.40" font-size="10.0" text-anchor="middle" >10</text>
<line x1="312.8" y1="629.20" x2="316.8" y2="629.20" stroke="#222" stroke-width="1"/>
<text x="321.00" y="632.80" font-size="10.0" text-anchor="start" >0</text>
<line x1="312.8" y1="611.55" x2="315.0" y2="611.55" stroke="#222" stroke-width="1"/>
<line x1="312.8" y1="593.90" x2="316.8" y2="593.90" stroke="#222" stroke-width="1"/>
<text x="321.00" y="597.50" font-size="10.0" text-anchor="start" >20</text>
<line x1="312.8" y1="576.25" x2="315.0" y2="576.25" stroke="#222" stroke-width="1"/>
<line x1="312.8" y1="558.60" x2="316.8" y2="558.60" stroke="#222" stroke-width="1"/>
<text x="321.00" y="562.20" font-size="10.0" text-anchor="start" >40</text>
<line x1="312.8" y1="540.95" x2="315.0" y2="540.95" stroke="#222" stroke-width="1"/>
<line x1="312.8" y1="523.30" x2="316.8" y2="523.30" stroke="#222" stroke-width="1"/>
<text x="321.00" y="526.90" font-size="10.0" text-anchor="start" >60</text>
<line x1="312.8" y1="505.65" x2="315.0" y2="505.65" stroke="#222" stroke-width="1"/>
<line x1="312.8" y1="488.00" x2="316.8" y2="488.00" stroke="#222" stroke-width="1"/>
<text x="321.00" y="491.60" font-size="10.0" text-anchor="start" >80</text>
<line x1="312.8" y1="470.35" x2="315.0" y2="470.35" stroke="#222" stroke-width="1"/>
<line x1="312.8" y1="452.70" x2="316.8" y2="452.70" stroke="#222" stroke-width="1"/>
<text x="321.00" y="456.30" font-size="10.0" text-anchor="start" >100</text>
<line x1="312.8" y1="435.05" x2="315.0" y2="435.05" stroke="#222" stroke-width="1"/>
<text x="181.40" y="659.50" font-size="10.0" text-anchor="middle" >Time (h)</text>
<text transform="translate(22.3,532.2) rotate(-90)" font-size="10.0" text-anchor="middle"><tspan font-style="italic">j</tspan> (mA cm<tspan dy="-3.8" font-size="6.8">−2</tspan><tspan dy="3.8">)</tspan></text>
<text transform="translate(347.0,539.5) rotate(90)" font-size="10.0" text-anchor="middle">FE<tspan dy="2.4" font-size="7.1">HCOO−</tspan><tspan dy="-2.4"> (%)</tspan></text>
<polyline points="76.73,457.90 102.96,458.40 129.19,458.90 155.42,459.70 181.65,460.60 207.88,461.40 234.11,462.20 260.34,463.00 286.57,462.20 310.30,464.90" fill="none" stroke="#827ed6" stroke-width="1.2"/>
<circle cx="76.73" cy="457.90" r="2.55" fill="#827ed6"/>
<circle cx="102.96" cy="458.40" r="2.55" fill="#827ed6"/>
<circle cx="129.19" cy="458.90" r="2.55" fill="#827ed6"/>
<circle cx="155.42" cy="459.70" r="2.55" fill="#827ed6"/>
<circle cx="181.65" cy="460.60" r="2.55" fill="#827ed6"/>
<circle cx="207.88" cy="461.40" r="2.55" fill="#827ed6"/>
<circle cx="234.11" cy="462.20" r="2.55" fill="#827ed6"/>
<circle cx="260.34" cy="463.00" r="2.55" fill="#827ed6"/>
<circle cx="286.57" cy="462.20" r="2.55" fill="#827ed6"/>
<circle cx="310.30" cy="464.90" r="2.55" fill="#827ed6"/>
<polyline points="50.80,489.18 51.30,489.37 51.80,489.19 52.30,489.04 52.80,488.70 53.30,488.75 53.80,489.27 54.30,489.31 54.80,489.56 55.30,489.39 55.80,489.34 56.30,489.22 56.80,488.43 57.30,488.90 57.80,489.05 58.30,489.12 58.80,488.32 59.30,487.81 59.80,487.82 60.30,487.98 60.80,488.36 61.30,488.45 61.80,488.71 62.30,488.41 62.80,488.59 63.30,488.72 63.80,488.40 64.30,489.10 64.80,489.07 65.30,489.29 65.80,488.73 66.30,488.34 66.80,488.25 67.30,488.28 67.80,488.57 68.30,488.60 68.80,488.34 69.30,487.99 69.80,487.94 70.30,488.57 70.80,488.17 71.30,488.33 71.80,488.49 72.30,487.85 72.80,488.05 73.30,488.64 73.80,487.73 74.30,487.83 74.80,487.96 75.30,487.77 75.80,488.15 76.30,488.16 76.80,487.63 77.30,488.18 77.80,488.45 78.30,488.72 78.80,489.06 79.30,488.85 79.80,488.63 80.30,487.96 80.80,488.28 81.30,488.01 81.80,487.90 82.30,487.52 82.80,487.41 83.30,487.51 83.80,488.25 84.30,487.44 84.80,487.16 85.30,487.64 85.80,488.39 86.30,488.50 86.80,487.63 87.30,486.87 87.80,487.50 88.30,487.47 88.80,487.30 89.30,487.99 89.80,488.45 90.30,488.37 90.80,488.35 91.30,488.42 91.80,488.89 92.30,488.80 92.80,488.71 93.30,488.67 93.80,487.84 94.30,488.42 94.80,488.64 95.30,488.62 95.80,487.65 96.30,487.57 96.80,488.09 97.30,487.39 97.80,487.59 98.30,488.16 98.80,487.62 99.30,488.41 99.80,488.48 100.30,488.25 100.80,488.29 101.30,488.44 101.80,488.33 102.30,488.65 102.80,488.16 103.30,487.95 103.80,488.39 104.30,488.26 104.80,487.84 105.30,488.28 105.80,488.74 106.30,488.29 106.80,487.66 107.30,487.76 107.80,487.81 108.30,487.79 108.80,488.42 109.30,487.87 109.80,488.41 110.30,487.78 110.80,487.58 111.30,488.00 111.80,488.44 112.30,488.60 112.80,488.50 113.30,488.36 113.80,488.28 114.30,488.40 114.80,488.18 115.30,488.22 115.80,488.36 116.30,488.22 116.80,488.43 117.30,488.48 117.80,489.06 118.30,488.77 118.80,488.30 119.30,488.05 119.80,488.03 120.30,488.37 120.80,488.10 121.30,488.21 121.80,488.83 122.30,487.53 122.80,487.30 123.30,487.67 123.80,487.96 124.30,488.07 124.80,487.88 125.30,488.18 125.80,488.22 126.30,487.94 126.80,488.89 127.30,488.67 127.80,488.20 128.30,488.08 128.80,487.97 129.30,487.96 129.80,486.94 130.30,487.18 130.80,487.90 131.30,487.50 131.80,487.68 132.30,488.17 132.80,488.43 133.30,488.83 133.80,487.85 134.30,487.78 134.80,487.74 135.30,488.08 135.80,488.47 136.30,487.26 136.80,487.97 137.30,487.44 137.80,487.92 138.30,487.39 138.80,487.70 139.30,488.28 139.80,488.11 140.30,488.14 140.80,488.39 141.30,488.29 141.80,488.14 142.30,488.67 142.80,488.80 143.30,488.37 143.80,489.27 144.30,488.33 144.80,488.54 145.30,488.23 145.80,488.19 146.30,488.38 146.80,488.31 147.30,488.43 147.80,487.68 148.30,487.24 148.80,487.78 149.30,487.50 149.80,487.31 150.30,487.03 150.80,487.90 151.30,488.22 151.80,488.70 152.30,488.06 152.80,488.04 153.30,487.59 153.80,488.05 154.30,488.63 154.80,488.04 155.30,488.62 155.80,488.75 156.30,488.38 156.80,487.48 157.30,488.22 157.80,488.10 158.30,487.83 158.80,488.05 159.30,488.19 159.80,488.68 160.30,488.02 160.80,488.45 161.30,488.83 161.80,489.05 162.30,488.56 162.80,488.06 163.30,488.42 163.80,488.30 164.30,488.23 164.80,488.68 165.30,488.31 165.80,487.31 166.30,487.44 166.80,486.96 167.30,487.69 167.80,487.93 168.30,487.73 168.80,487.83 169.30,488.22 169.80,488.16 170.30,488.60 170.80,488.34 171.30,488.60 171.80,488.93 172.30,489.17 172.80,488.45 173.30,488.60 173.80,487.65 174.30,487.38 174.80,486.88 175.30,487.73 175.80,487.37 176.30,487.62 176.80,487.70 177.30,487.81 177.80,487.66 178.30,487.89 178.80,488.61 179.30,488.38 179.80,488.43 180.30,488.64 180.80,488.31 181.30,487.71 181.80,487.61 182.30,488.18 182.80,487.48 183.30,487.46 183.80,488.06 184.30,488.34 184.80,488.21 185.30,488.43 185.80,488.32 186.30,487.74 186.80,487.25 187.30,487.31 187.80,487.94 188.30,487.75 188.80,487.51 189.30,487.41 189.80,487.06 190.30,487.39 190.80,487.19 191.30,487.65 191.80,486.89 192.30,487.46 192.80,487.43 193.30,486.92 193.80,487.63 194.30,487.67 194.80,486.96 195.30,487.04 195.80,487.53 196.30,487.54 196.80,488.02 197.30,488.29 197.80,488.41 198.30,488.35 198.80,488.67 199.30,488.59 199.80,488.43 200.30,487.33 200.80,487.75 201.30,488.10 201.80,487.65 202.30,487.26 202.80,487.92 203.30,486.89 203.80,487.13 204.30,488.05 204.80,487.38 205.30,487.64 205.80,488.31 206.30,488.01 206.80,488.13 207.30,488.37 207.80,487.85 208.30,487.86 208.80,488.03 209.30,488.33 209.80,488.19 210.30,488.04 210.80,487.64 211.30,487.65 211.80,488.13 212.30,488.12 212.80,487.75 213.30,487.53 213.80,488.73 214.30,488.87 214.80,488.76 215.30,487.47 215.80,487.92 216.30,488.13 216.80,488.72 217.30,488.60 217.80,488.33 218.30,488.40 218.80,487.50 219.30,488.09 219.80,488.18 220.30,487.84 220.80,488.41 221.30,488.93 221.80,488.03 222.30,487.76 222.80,487.97 223.30,488.05 223.80,487.88 224.30,487.56 224.80,488.54 225.30,488.72 225.80,487.98 226.30,487.48 226.80,488.33 227.30,488.58 227.80,489.04 228.30,488.93 228.80,488.23 229.30,488.24 229.80,487.32 230.30,487.31 230.80,487.56 231.30,487.94 231.80,487.69 232.30,487.76 232.80,488.03 233.30,488.16 233.80,488.34 234.30,488.28 234.80,488.05 235.30,488.33 235.80,488.22 236.30,487.82 236.80,487.65 237.30,487.79 237.80,487.83 238.30,487.96 238.80,487.98 239.30,488.05 239.80,487.98 240.30,487.51 240.80,487.87 241.30,488.32 241.80,488.36 242.30,488.14 242.80,488.26 243.30,487.79 243.80,487.15 244.30,487.51 244.80,487.35 245.30,487.89 245.80,487.52 246.30,486.72 246.80,486.83 247.30,487.90 247.80,487.80 248.30,487.36 248.80,487.32 249.30,487.79 249.80,488.06 250.30,488.11 250.80,488.63 251.30,488.64 251.80,488.38 252.30,488.45 252.80,488.90 253.30,488.91 253.80,488.93 254.30,488.15 254.80,488.03 255.30,488.30 255.80,488.07 256.30,488.45 256.80,488.49 257.30,488.64 257.80,488.30 258.30,489.15 258.80,489.16 259.30,488.61 259.80,488.40 260.30,489.23 260.80,488.61 261.30,488.70 261.80,488.79 262.30,488.48 262.80,487.84 263.30,487.98 263.80,488.12 264.30,488.50 264.80,488.60 265.30,488.37 265.80,488.55 266.30,488.53 266.80,488.40 267.30,488.26 267.80,488.06 268.30,488.30 268.80,487.78 269.30,487.63 269.80,487.78 270.30,487.31 270.80,487.42 271.30,486.89 271.80,487.07 272.30,487.66 272.80,488.01 273.30,487.99 273.80,487.90 274.30,487.40 274.80,488.34 275.30,488.40 275.80,488.65 276.30,488.06 276.80,487.96 277.30,487.29 277.80,487.87 278.30,488.28 278.80,487.44 279.30,487.65 279.80,488.03 280.30,487.35 280.80,486.91 281.30,486.94 281.80,487.13 282.30,486.94 282.80,487.38 283.30,487.72 283.80,488.07 284.30,488.31 284.80,488.76 285.30,488.90 285.80,488.04 286.30,487.83 286.80,487.50 287.30,487.29 287.80,487.54 288.30,487.73 288.80,488.02 289.30,487.41 289.80,487.18 290.30,487.50 290.80,487.62 291.30,487.66 291.80,487.77 292.30,487.57 292.80,488.01 293.30,488.14 293.80,488.05 294.30,487.78 294.80,487.80 295.30,486.85 295.80,486.93 296.30,487.37 296.80,487.05 297.30,487.51 297.80,487.76 298.30,487.33 298.80,487.50 299.30,487.58 299.80,487.92 300.30,488.19 300.80,488.10 301.30,487.74 301.80,487.79 302.30,487.85 302.80,488.19 303.30,488.22 303.80,487.86 304.30,487.40 304.80,487.50 305.30,487.42 305.80,487.23 306.30,487.49 306.80,487.51 307.30,487.75 307.80,488.05 308.30,487.87 308.80,488.81 309.30,488.36 309.80,488.64 310.30,488.43 310.80,488.68 311.30,487.51 311.80,487.42 312.30,487.74" fill="none" stroke="#827ed6" stroke-width="1.7" stroke-linejoin="round"/>
<path d="M83.6,495.3 V504.4 H62" fill="none" stroke="#827ed6" stroke-width="1"/>
<path d="M58,504.4 L64.5,502.3 L64.5,506.5 Z" fill="#827ed6"/>
<path d="M274.3,454.7 V445.9 H296" fill="none" stroke="#827ed6" stroke-width="1"/>
<path d="M300,445.9 L293.5,443.8 L293.5,448 Z" fill="#827ed6"/>
<rect x="100.4" y="523.3" width="197.20000000000002" height="65.5" fill="#fff" stroke="#222" stroke-width="1"/>
<line x1="103.70" y1="588.8" x2="103.70" y2="592.1999999999999" stroke="#222" stroke-width="1"/>
<text x="103.70" y="602.60" font-size="10.0" text-anchor="middle" >0</text>
<line x1="119.86" y1="588.8" x2="119.86" y2="590.8" stroke="#222" stroke-width="1"/>
<line x1="136.02" y1="588.8" x2="136.02" y2="592.1999999999999" stroke="#222" stroke-width="1"/>
<text x="136.02" y="602.60" font-size="10.0" text-anchor="middle" >10</text>
<line x1="152.18" y1="588.8" x2="152.18" y2="590.8" stroke="#222" stroke-width="1"/>
<line x1="168.34" y1="588.8" x2="168.34" y2="592.1999999999999" stroke="#222" stroke-width="1"/>
<text x="168.34" y="602.60" font-size="10.0" text-anchor="middle" >20</text>
<line x1="184.50" y1="588.8" x2="184.50" y2="590.8" stroke="#222" stroke-width="1"/>
<line x1="200.66" y1="588.8" x2="200.66" y2="592.1999999999999" stroke="#222" stroke-width="1"/>
<text x="200.66" y="602.60" font-size="10.0" text-anchor="middle" >30</text>
<line x1="216.82" y1="588.8" x2="216.82" y2="590.8" stroke="#222" stroke-width="1"/>
<line x1="232.98" y1="588.8" x2="232.98" y2="592.1999999999999" stroke="#222" stroke-width="1"/>
<text x="232.98" y="602.60" font-size="10.0" text-anchor="middle" >40</text>
<line x1="249.14" y1="588.8" x2="249.14" y2="590.8" stroke="#222" stroke-width="1"/>
<line x1="265.30" y1="588.8" x2="265.30" y2="592.1999999999999" stroke="#222" stroke-width="1"/>
<text x="265.30" y="602.60" font-size="10.0" text-anchor="middle" >50</text>
<line x1="281.46" y1="588.8" x2="281.46" y2="590.8" stroke="#222" stroke-width="1"/>
<line x1="297.62" y1="588.8" x2="297.62" y2="592.1999999999999" stroke="#222" stroke-width="1"/>
<text x="297.62" y="602.60" font-size="10.0" text-anchor="middle" >60</text>
<line x1="100.4" y1="523.30" x2="96.5" y2="523.30" stroke="#222" stroke-width="1"/>
<text x="93.80" y="527.10" font-size="10.0" text-anchor="end" >0</text>
<line x1="100.4" y1="545.10" x2="96.5" y2="545.10" stroke="#222" stroke-width="1"/>
<text x="93.80" y="548.90" font-size="10.0" text-anchor="end" >−2</text>
<line x1="100.4" y1="566.90" x2="96.5" y2="566.90" stroke="#222" stroke-width="1"/>
<text x="93.80" y="570.70" font-size="10.0" text-anchor="end" >−4</text>
<line x1="100.4" y1="588.70" x2="96.5" y2="588.70" stroke="#222" stroke-width="1"/>
<text x="93.80" y="592.50" font-size="10.0" text-anchor="end" >−6</text>
<text x="199.50" y="616.80" font-size="10.0" text-anchor="middle" >Time (min)</text>
<text transform="translate(74.6,556) rotate(-90)" font-size="10.0" text-anchor="middle"><tspan font-style="italic">j</tspan> (mA cm<tspan dy="-3.8" font-size="6.8">−2</tspan><tspan dy="3.8">)</tspan></text>
<line x1="109.68" y1="523.3" x2="109.68" y2="588.8" stroke="#444" stroke-width="0.9" stroke-dasharray="0.9,1.3"/>
<line x1="200.66" y1="523.3" x2="200.66" y2="588.8" stroke="#444" stroke-width="0.9" stroke-dasharray="0.9,1.3"/>
<polyline points="103.50,579.98 103.60,570.83 103.69,563.62 103.79,557.93 103.89,553.42 103.98,549.83 104.08,546.97 104.18,544.67 104.28,542.82 104.37,541.32 104.47,540.09 104.57,539.07 104.66,538.23 104.76,537.52 104.86,536.92 104.95,536.41 105.05,535.96 105.15,535.57 105.25,535.23 105.34,534.92 105.44,534.64 105.54,534.39 105.63,534.16 105.73,533.95 105.83,533.75 105.92,533.57 106.02,533.40 106.12,533.24 106.21,533.09 106.31,532.95 106.41,532.82 106.51,532.69 106.60,532.57 106.70,532.46 106.80,532.35 107.18,531.97 107.57,531.65 107.96,531.40 108.35,531.19 108.74,531.02 109.12,530.88 109.51,530.78 109.90,530.69 110.29,530.63 110.68,530.58 111.06,530.54 111.45,530.52 111.84,530.51 112.23,530.50 112.61,530.50 113.00,530.51 113.39,530.52 113.78,530.54 114.17,530.56 114.55,530.58 114.94,530.61 115.33,530.63 115.72,530.66 116.10,530.69 116.49,530.78 117.79,531.06 119.08,530.97 120.37,531.18 121.66,531.24 122.96,531.38 124.25,531.44 125.54,531.48 126.84,531.66 128.13,531.60 129.42,531.93 130.71,531.82 132.01,532.04 133.30,532.33 134.59,532.19 135.88,532.30 137.18,532.51 138.47,532.49 139.76,532.49 141.06,532.68 142.35,532.80 143.64,532.90 144.93,532.83 146.23,533.16 147.52,533.23 148.81,533.14 150.11,533.24 151.40,533.25 152.69,533.50 153.98,533.36 155.28,533.57 156.57,533.52 157.86,533.56 159.16,533.77 160.45,533.90 161.74,533.82 163.03,533.82 164.33,534.03 165.62,534.00 166.91,534.10 168.20,534.27 169.50,534.29 170.79,534.18 172.08,534.51 173.38,534.34 174.67,534.47 175.96,534.37 177.25,534.48 178.55,534.36 179.84,534.76 181.13,534.77 182.43,534.55 183.72,534.57 185.01,534.60 186.30,534.92 187.60,534.80 188.89,534.88 190.18,534.90 191.48,534.96 192.77,534.90 194.06,535.05 195.35,534.94 196.65,535.11 197.94,535.19 199.23,535.24 200.52,535.20 201.82,535.17 203.11,535.31 204.40,535.27 205.70,535.51 206.99,535.46 208.28,535.41 209.57,535.40 210.87,535.41 212.16,535.41 213.45,535.50 214.75,535.59 216.04,535.64 217.33,535.67 218.62,535.85 219.92,535.59 221.21,535.69 222.50,535.99 223.80,535.55 225.09,535.71 226.38,535.80 227.67,535.82 228.97,535.87 230.26,535.83 231.55,535.91 232.84,535.90 234.14,535.99 235.43,535.74 236.72,535.86 238.02,535.97 239.31,535.89 240.60,535.91 241.89,536.09 243.19,535.98 244.48,536.13 245.77,536.15 247.07,536.13 248.36,536.16 249.65,536.12 250.94,536.00 252.24,536.16 253.53,536.22 254.82,536.14 256.12,536.20 257.41,536.29 258.70,536.15 259.99,536.31 261.29,536.45 262.58,536.22 263.87,536.30 265.16,536.28 266.46,536.47 267.75,536.36 269.04,536.43 270.34,536.28 271.63,536.36 272.92,536.37 274.21,536.20 275.51,536.54 276.80,536.49 278.09,536.24 279.39,536.50 280.68,536.42 281.97,536.49 283.26,536.49 284.56,536.31 285.85,536.45 287.14,536.63 288.44,536.43 289.73,536.39 291.02,536.37 292.31,536.39 293.61,536.56 294.90,536.70 296.19,536.58" fill="none" stroke="#827ed6" stroke-width="1.4" stroke-linejoin="round" stroke-linecap="round"/>
<line x1="114.8" y1="559.7" x2="107.6" y2="555.1" stroke="#111" stroke-width="0.9"/>
<path d="M105.9,554.0 L109.3,554.6 L108.0,556.7 Z" fill="#111"/>
<text x="118.80" y="569.00" font-size="8.7" text-anchor="middle" >I</text>
<text x="157.40" y="562.00" font-size="8.7" text-anchor="middle" >II</text>
<text x="250.80" y="561.70" font-size="8.7" text-anchor="middle" >III</text>
<rect x="420.9" y="434.6" width="123.20000000000005" height="195.19999999999993" fill="none" stroke="#333" stroke-width="0.85"/>
<line x1="441.65" y1="629.8" x2="441.65" y2="633.4" stroke="#222" stroke-width="1"/>
<text x="441.65" y="645.90" font-size="10.0" text-anchor="middle" >8.8</text>
<line x1="462.08" y1="629.8" x2="462.08" y2="631.8" stroke="#222" stroke-width="1"/>
<line x1="482.50" y1="629.8" x2="482.50" y2="633.4" stroke="#222" stroke-width="1"/>
<text x="482.50" y="645.90" font-size="10.0" text-anchor="middle" >8.4</text>
<line x1="502.93" y1="629.8" x2="502.93" y2="631.8" stroke="#222" stroke-width="1"/>
<line x1="523.35" y1="629.8" x2="523.35" y2="633.4" stroke="#222" stroke-width="1"/>
<text x="523.35" y="645.90" font-size="10.0" text-anchor="middle" >8.0</text>
<line x1="421.23" y1="629.8" x2="421.23" y2="631.8" stroke="#222" stroke-width="1"/>
<line x1="543.78" y1="629.8" x2="543.78" y2="631.8" stroke="#222" stroke-width="1"/>
<polyline points="421.40,608.63 421.95,613.15 422.50,614.82 423.05,610.32 423.60,607.83 424.15,611.37 424.70,612.82 425.25,614.50 425.80,607.66 426.35,607.32 426.90,612.99 427.45,612.19 428.00,615.14 428.55,613.42 429.10,610.15 429.65,609.53 430.20,617.65 430.75,609.24 431.30,607.67 431.85,606.53 432.40,609.98 432.95,610.00 433.50,608.46 434.05,609.15 434.60,610.00 435.15,611.09 435.70,612.14 436.25,609.44 436.80,603.52 437.35,610.62 437.90,604.35 438.45,607.84 439.00,603.94 439.55,608.10 440.10,605.71 440.65,608.45 441.20,617.26 441.75,607.41 442.30,609.86 442.85,603.44 443.40,606.30 443.95,608.92 444.50,606.60 445.05,607.80 445.60,606.89 446.15,603.53 446.70,607.95 447.25,603.82 447.80,611.47 448.35,604.43 448.90,607.75 449.45,605.63 450.00,608.25 450.55,603.60 451.10,608.11 451.65,604.71 452.20,608.60 452.75,606.61 453.30,605.07 453.85,602.26 454.40,606.61 454.95,605.60 455.50,608.87 456.05,602.87 456.60,605.44 457.15,605.16 457.70,604.37 458.25,604.02 458.80,603.80 459.35,601.40 459.90,600.06 460.45,601.79 461.00,604.60 461.55,607.22 462.10,605.63 462.65,605.80 463.20,604.95 463.75,604.68 464.30,603.13 464.85,604.79 465.40,607.65 465.95,601.51 466.50,600.40 467.05,608.04 467.60,603.02 468.15,605.07 468.70,604.74 469.25,598.86 469.80,609.16 470.35,607.20 470.90,602.51 471.45,604.12 472.00,602.25 472.55,599.26 473.10,601.44 473.65,602.79 474.20,604.88 474.75,603.63 475.30,601.68 475.85,605.36 476.40,599.14 476.95,603.57 477.50,604.40 478.05,600.23 478.60,595.75 479.15,598.17 479.70,601.32 480.25,601.99 480.80,604.76 481.35,597.15 481.90,599.82 482.45,601.43 483.00,598.77 483.55,591.98 484.10,600.75 484.65,604.57 485.20,600.07 485.75,593.55 486.30,593.64 486.85,593.23 487.40,595.43 487.95,578.70 488.50,534.25 488.55,530.66 488.90,477.40 489.05,498.00 489.25,526.87 489.60,566.91 490.15,589.85 490.70,597.28 491.25,597.04 491.80,597.08 492.35,591.46 492.90,594.95 493.45,595.39 494.00,595.69 494.55,598.97 495.10,596.30 495.65,599.54 496.20,597.48 496.75,596.25 497.30,597.52 497.85,598.39 498.40,599.60 498.95,595.70 499.50,596.37 500.05,593.06 500.60,601.63 501.15,601.16 501.70,596.40 502.25,595.50 502.80,593.27 503.35,597.32 503.90,597.40 504.45,603.10 505.00,597.45 505.55,594.46 506.10,589.59 506.65,600.74 507.20,597.17 507.75,591.93 508.30,597.09 508.85,591.88 509.40,606.61 509.95,599.73 510.50,598.12 511.05,595.92 511.60,590.20 512.15,596.01 512.70,591.84 513.25,598.05 513.80,590.09 514.35,593.63 514.90,599.77 515.45,600.98 516.00,592.76 516.55,591.71 517.10,598.68 517.65,598.57 518.20,593.21 518.75,594.03 519.30,594.00 519.85,592.54 520.40,593.91 520.95,599.37 521.50,597.61 522.05,601.43 522.60,595.08 523.15,594.80 523.70,592.21 524.25,594.56 524.80,590.98 525.35,589.49 525.90,596.53 526.45,598.55 527.00,596.66 527.55,597.96 528.10,594.69 528.65,591.74 529.20,593.94 529.75,592.47 530.30,590.24 530.85,588.52 531.40,589.10 531.95,593.34 532.50,593.76 533.05,591.91 533.60,597.39 534.15,593.73 534.70,594.87 535.25,596.67 535.80,590.73 536.35,587.36 536.90,595.21 537.45,591.00 538.00,596.76 538.55,593.90 539.10,595.80 539.65,595.06 540.20,586.78 540.75,594.86 541.30,590.79 541.85,590.51 542.40,591.40 542.95,594.86 543.50,595.16" fill="none" stroke="#0a0a0a" stroke-width="1.3" stroke-linejoin="round"/>
<text x="470.7" y="467.7" font-size="8.7">H<tspan dy="-3.2" font-size="5.8">12</tspan><tspan dy="3.2">COO</tspan><tspan dy="-3.4" font-size="5.8">−</tspan></text>
<text transform="translate(414.50,532.00) rotate(-90)" font-size="10.0" text-anchor="middle">Intensity (a.u.)</text>
<rect x="559.3" y="434.6" width="123.70000000000005" height="195.19999999999993" fill="none" stroke="#333" stroke-width="0.85"/>
<line x1="580.35" y1="629.8" x2="580.35" y2="633.4" stroke="#222" stroke-width="1"/>
<text x="580.35" y="645.90" font-size="10.0" text-anchor="middle" >8.8</text>
<line x1="600.78" y1="629.8" x2="600.78" y2="631.8" stroke="#222" stroke-width="1"/>
<line x1="621.20" y1="629.8" x2="621.20" y2="633.4" stroke="#222" stroke-width="1"/>
<text x="621.20" y="645.90" font-size="10.0" text-anchor="middle" >8.4</text>
<line x1="641.63" y1="629.8" x2="641.63" y2="631.8" stroke="#222" stroke-width="1"/>
<line x1="662.05" y1="629.8" x2="662.05" y2="633.4" stroke="#222" stroke-width="1"/>
<text x="662.05" y="645.90" font-size="10.0" text-anchor="middle" >8.0</text>
<line x1="559.93" y1="629.8" x2="559.93" y2="631.8" stroke="#222" stroke-width="1"/>
<line x1="682.48" y1="629.8" x2="682.48" y2="631.8" stroke="#222" stroke-width="1"/>
<polyline points="559.80,603.36 560.30,599.06 560.80,600.75 561.30,597.87 561.80,601.48 562.30,602.58 562.80,600.37 563.30,601.96 563.80,601.91 564.30,603.13 564.80,600.17 565.30,600.14 565.80,600.22 566.30,604.22 566.80,603.13 567.30,601.16 567.80,601.69 568.30,601.49 568.80,601.61 569.30,600.92 569.80,600.70 570.30,599.19 570.80,600.15 571.30,603.79 571.80,601.98 572.30,601.20 572.80,600.73 573.30,601.15 573.80,601.58 574.30,599.96 574.80,601.28 575.30,601.32 575.80,599.71 576.30,599.62 576.80,599.26 577.30,599.13 577.80,602.22 578.30,596.99 578.80,600.31 579.30,599.73 579.80,599.69 580.30,600.80 580.80,602.42 581.30,600.71 581.80,600.33 582.30,599.54 582.80,600.27 583.30,601.90 583.80,599.77 584.30,598.53 584.80,598.30 585.30,598.51 585.80,598.00 586.30,601.94 586.80,600.69 587.30,599.68 587.80,602.33 588.30,598.88 588.80,601.06 589.30,601.05 589.80,597.20 590.30,597.08 590.80,597.97 591.30,600.77 591.80,601.24 592.30,597.03 592.80,600.47 593.30,597.94 593.80,597.64 594.30,597.06 594.80,597.00 595.30,594.19 595.80,594.98 596.30,593.83 596.80,595.37 597.30,595.78 597.80,592.46 598.30,576.39 598.80,535.00 598.85,529.68 599.20,482.54 599.30,494.54 599.55,534.49 599.80,563.07 600.30,589.66 600.80,596.52 601.30,596.13 601.80,599.39 602.30,600.55 602.80,601.24 603.30,601.53 603.80,600.79 604.30,601.59 604.80,600.27 605.30,599.68 605.80,603.43 606.30,601.46 606.80,601.46 607.30,598.08 607.80,600.23 608.30,601.67 608.80,598.16 609.30,601.85 609.80,599.33 610.30,600.46 610.80,599.47 611.30,599.89 611.80,601.32 612.30,598.61 612.80,601.62 613.30,597.72 613.80,597.33 614.30,599.81 614.80,596.81 615.30,597.76 615.80,599.64 616.30,599.95 616.80,595.00 617.30,598.46 617.80,600.46 618.30,599.15 618.80,596.61 619.30,595.77 619.80,595.96 620.30,594.43 620.80,595.75 621.30,595.61 621.80,595.13 622.30,596.03 622.80,590.59 623.30,577.66 623.45,574.34 623.80,553.90 623.80,554.90 624.15,573.87 624.30,581.24 624.80,591.90 625.30,596.68 625.80,602.06 626.30,598.21 626.80,599.17 627.30,601.26 627.80,600.66 628.30,600.66 628.80,600.76 629.30,596.16 629.80,597.85 630.30,599.35 630.80,599.85 631.30,601.03 631.80,599.62 632.30,598.39 632.80,598.73 633.30,598.23 633.80,598.86 634.30,599.44 634.80,597.71 635.30,596.84 635.80,596.66 636.30,599.67 636.80,599.84 637.30,599.26 637.80,598.91 638.30,598.74 638.80,597.26 639.30,598.17 639.80,595.26 640.30,596.45 640.80,595.41 641.30,597.54 641.80,595.23 642.30,595.73 642.80,596.26 643.30,597.47 643.80,593.66 644.30,592.99 644.80,595.27 645.30,591.52 645.80,593.14 646.30,590.42 646.80,589.52 647.30,583.62 647.80,580.38 648.30,555.66 648.55,525.78 648.80,490.75 648.90,482.50 649.25,536.08 649.30,538.76 649.80,577.94 650.30,590.09 650.80,596.75 651.30,596.11 651.80,597.95 652.30,598.59 652.80,596.55 653.30,598.33 653.80,597.37 654.30,596.20 654.80,599.57 655.30,599.21 655.80,598.23 656.30,596.61 656.80,594.81 657.30,598.74 657.80,597.75 658.30,595.16 658.80,597.71 659.30,595.32 659.80,597.65 660.30,597.87 660.80,598.16 661.30,597.88 661.80,597.76 662.30,595.61 662.80,596.77 663.30,596.51 663.80,596.90 664.30,597.66 664.80,598.17 665.30,599.77 665.80,593.04 666.30,597.78 666.80,596.82 667.30,600.77 667.80,598.62 668.30,594.48 668.80,597.76 669.30,596.28 669.80,598.70 670.30,595.42 670.80,596.94 671.30,596.89 671.80,596.94 672.30,596.15 672.80,594.14 673.30,597.82 673.80,598.67 674.30,596.96 674.80,595.44 675.30,597.39 675.80,597.96 676.30,596.77 676.80,597.02 677.30,599.30 677.80,595.25 678.30,596.14 678.80,593.98 679.30,595.90 679.80,595.84 680.30,595.48 680.80,595.90 681.30,599.88 681.80,596.69 682.30,596.81" fill="none" stroke="#0a0a0a" stroke-width="1.3" stroke-linejoin="round"/>
<text x="608" y="465.9" font-size="8.7">H<tspan dy="-3.2" font-size="5.8">13</tspan><tspan dy="3.2">COO</tspan><tspan dy="-3.4" font-size="5.8">−</tspan></text>
<line x1="613.1" y1="471" x2="603" y2="478.8" stroke="#111" stroke-width="0.9"/><path d="M600.4,480.8 L603.4,476.2 L605.6,479.1 Z" fill="#111"/>
<line x1="634.9" y1="471" x2="645" y2="478.8" stroke="#111" stroke-width="0.9"/><path d="M647.6,480.8 L644.6,476.2 L642.4,479.1 Z" fill="#111"/>
<text x="554.00" y="659.60" font-size="10.0" text-anchor="middle" >Chemical shift (p.p.m.)</text>
<text class="pl" x="6" y="10.6">a</text><text class="pl" x="6" y="183">b</text><text class="pl" x="381.5" y="182.8">c</text><text class="pl" x="6" y="437.6">d</text><text class="pl" x="381.5" y="436">e</text>
</svg></body></html>
